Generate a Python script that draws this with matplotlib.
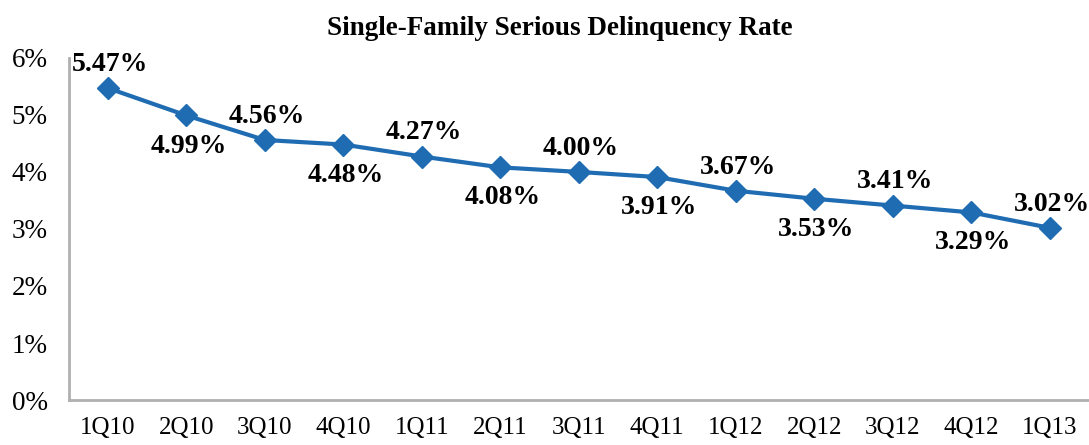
import matplotlib
matplotlib.use("Agg")
import matplotlib.pyplot as plt
import numpy as np

quarters = ["1Q10", "2Q10", "3Q10", "4Q10", "1Q11", "2Q11", "3Q11",
            "4Q11", "1Q12", "2Q12", "3Q12", "4Q12", "1Q13"]
rates = [5.47, 4.99, 4.56, 4.48, 4.27, 4.08, 4.00, 3.91, 3.67, 3.53, 3.41, 3.29, 3.02]
yticks = [0, 1, 2, 3, 4, 5, 6]

plt.rcParams['font.family'] = ['Liberation Serif', 'DejaVu Serif']

fig = plt.figure(figsize=(10.89, 4.45), dpi=100)
ax = fig.add_axes([0.063, 0.101, 0.937, 0.769])

x = np.arange(len(quarters))
ax.plot(x, rates, color="#1f6cb3", lw=3, marker="D", ms=11, zorder=3)

for i, v in enumerate(rates):
    dy = 17 if i % 2 == 0 else -22
    ax.annotate(f"{v:.2f}%", (i, v), xytext=(1.5, dy), textcoords="offset points",
                ha="center", va="center", fontsize=20, fontweight="bold")

ax.set_xlim(-0.5, len(quarters) - 0.5)
ax.set_ylim(0, 6)
ax.set_xticks(x)
ax.set_xticklabels(quarters, fontsize=18)
ax.set_yticks(yticks)
ax.set_yticklabels([f"{t}%" for t in yticks], fontsize=19.5)
ax.tick_params(axis="x", length=0, pad=12)
ax.tick_params(axis="y", length=0, pad=15)
for s in ["top", "right"]:
    ax.spines[s].set_visible(False)
for s in ["left", "bottom"]:
    ax.spines[s].set_color("#b0b0b0")
    ax.spines[s].set_linewidth(2)

fig.text(0.514, 0.935, "Single-Family Serious Delinquency Rate", ha="center", va="center",
         fontsize=19.5, fontweight="bold")

fig.savefig("out.png", dpi=100)
